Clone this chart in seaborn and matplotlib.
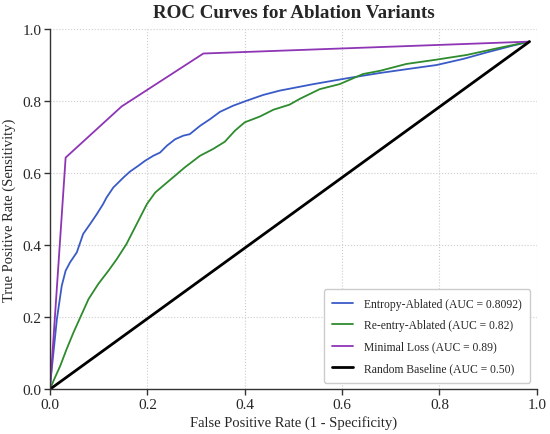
import numpy as np
import pandas as pd
import matplotlib
matplotlib.use("Agg")
import matplotlib.pyplot as plt
import seaborn as sns

# ROC points
entropy_fpr = [0.0, 0.0, 0.014, 0.024, 0.032, 0.041, 0.055, 0.068, 0.082, 0.096, 0.109, 0.116,
               0.130, 0.151, 0.164, 0.181, 0.195, 0.212, 0.226, 0.240, 0.257, 0.274, 0.287,
               0.308, 0.329, 0.349, 0.376, 0.404, 0.438, 0.472, 0.541, 0.609, 0.678, 0.746,
               0.794, 0.849, 0.897, 0.951, 0.985]
entropy_tpr = [0.0, 0.01, 0.194, 0.287, 0.329, 0.352, 0.380, 0.431, 0.458, 0.486, 0.514, 0.532,
               0.560, 0.588, 0.604, 0.620, 0.634, 0.648, 0.657, 0.676, 0.694, 0.704, 0.708,
               0.731, 0.750, 0.770, 0.787, 0.801, 0.817, 0.829, 0.847, 0.863, 0.878, 0.891,
               0.900, 0.917, 0.935, 0.954, 0.965]

reentry_fpr = [0.0, 0.007, 0.021, 0.034, 0.048, 0.062, 0.079, 0.099, 0.120, 0.137, 0.157, 0.171,
               0.185, 0.199, 0.216, 0.236, 0.257, 0.277, 0.308, 0.335, 0.359, 0.380, 0.400,
               0.431, 0.459, 0.492, 0.513, 0.554, 0.595, 0.643, 0.678, 0.732, 0.794, 0.856,
               0.917, 0.985]
reentry_tpr = [0.0, 0.023, 0.065, 0.111, 0.157, 0.199, 0.250, 0.292, 0.329, 0.361, 0.403, 0.440,
               0.477, 0.514, 0.546, 0.569, 0.593, 0.616, 0.648, 0.667, 0.687, 0.718, 0.741,
               0.757, 0.776, 0.790, 0.806, 0.833, 0.847, 0.875, 0.884, 0.903, 0.915, 0.928,
               0.946, 0.965]

minimal_fpr = [0.0, 0.032, 0.147, 0.315, 0.985]
minimal_tpr = [0.0, 0.643, 0.785, 0.932, 0.965]

baseline_fpr = [0.0, 0.985]
baseline_tpr = [0.0, 0.965]

labels = ["Entropy-Ablated (AUC = 0.8092)", "Re-entry-Ablated (AUC = 0.82)",
          "Minimal Loss (AUC = 0.89)", "Random Baseline (AUC = 0.50)"]

sns.set_theme(style="whitegrid")
plt.rcParams['font.family'] = ['Liberation Serif', 'DejaVu Serif']

fig, ax = plt.subplots(figsize=(5.5, 4.35), dpi=100)
fig.subplots_adjust(left=0.091, right=0.976, bottom=0.103, top=0.931)

sns.lineplot(x=entropy_fpr, y=entropy_tpr, ax=ax, color='#3A5BC7', linewidth=1.3,
             sort=False, estimator=None, label=labels[0])
sns.lineplot(x=reentry_fpr, y=reentry_tpr, ax=ax, color='#2E8B2E', linewidth=1.3,
             sort=False, estimator=None, label=labels[1])
sns.lineplot(x=minimal_fpr, y=minimal_tpr, ax=ax, color='#8E35B5', linewidth=1.3,
             sort=False, estimator=None, label=labels[2])
sns.lineplot(x=baseline_fpr, y=baseline_tpr, ax=ax, color='black', linewidth=2,
             sort=False, estimator=None, label=labels[3])

ax.set_xlim(0, 1)
ax.set_ylim(0, 1)
ticks = np.arange(0, 1.01, 0.2)
ax.set_xticks(ticks)
ax.set_yticks(ticks)
ax.set_xticklabels([f"{v:.1f}" for v in ticks])
ax.set_yticklabels([f"{v:.1f}" for v in ticks])
ax.grid(True, linestyle=':', color='#cccccc', linewidth=0.8)
ax.set_facecolor('white')
sns.despine(ax=ax)
for s in ['left', 'bottom']:
    ax.spines[s].set_color('#333333')
    ax.spines[s].set_linewidth(1.0)
ax.tick_params(axis='both', which='major', direction='out', length=4, width=1,
               color='#333333', labelsize=11, left=True, bottom=True, pad=2)

ax.set_xlabel('False Positive Rate (1 - Specificity)', fontsize=10.5, labelpad=3)
ax.set_ylabel('True Positive Rate (Sensitivity)', fontsize=10.5, labelpad=5)
ax.set_title('ROC Curves for Ablation Variants', fontsize=13.7, fontweight='bold', pad=9)

leg = ax.legend(loc='lower right', fontsize=8.4, frameon=True, fancybox=True,
                edgecolor='#cccccc', framealpha=1, borderpad=0.75, labelspacing=0.8,
                handlelength=1.8, handletextpad=0.9, borderaxespad=0.55)

plt.savefig('out.png', dpi=100)
